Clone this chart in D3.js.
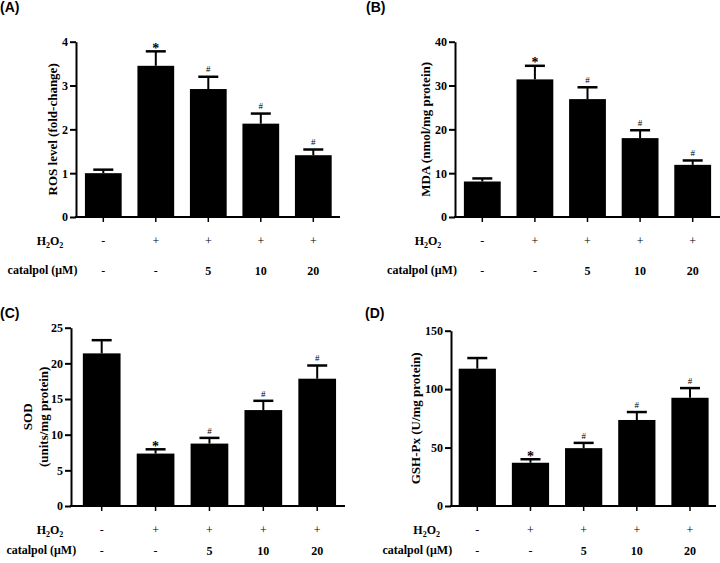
<!DOCTYPE html>
<html>
<head>
<meta charset="utf-8">
<script src="https://cdn.jsdelivr.net/npm/d3@7/dist/d3.min.js"></script>
<style>
  html, body { margin: 0; padding: 0; background: #fff; }
  svg { display: block; }
  text { font-family: "Liberation Serif", "Times New Roman", serif; font-weight: bold; fill: #000; }
</style>
</head>
<body>
<svg id="chart" width="720" height="563"></svg>
<script>
// ---------------- data ----------------
const groups = ["G1", "G2", "G3", "G4", "G5"];
const h2o2Labels = ["-", "+", "+", "+", "+"];
const catalpolLabels = ["-", "-", "5", "10", "20"];

const rosMean = [1.0, 3.45, 2.92, 2.13, 1.41];
const rosErr  = [0.08, 0.33, 0.28, 0.23, 0.13];
const rosMarks = ["", "*", "#", "#", "#"];
const rosTicks = [0, 1, 2, 3, 4];

const mdaMean = [8.1, 31.4, 26.9, 18.0, 11.9];
const mdaErr  = [0.7, 3.1, 2.7, 1.8, 1.0];
const mdaMarks = ["", "*", "#", "#", "#"];
const mdaTicks = [0, 10, 20, 30, 40];

const sodMean = [21.4, 7.35, 8.75, 13.45, 17.85];
const sodErr  = [1.85, 0.6, 0.8, 1.3, 1.85];
const sodMarks = ["", "*", "#", "#", "#"];
const sodTicks = [0, 5, 10, 15, 20, 25];

const gshMean = [117.5, 37.0, 49.5, 73.6, 92.6];
const gshErr  = [9.1, 3.0, 4.5, 6.8, 8.3];
const gshMarks = ["", "*", "#", "#", "#"];
const gshTicks = [0, 50, 100, 150];

const panelLetters = ["(A)", "(B)", "(C)", "(D)"];
const yLabels = [["ROS level (fold-change)"], ["MDA (nmol/mg protein)"], ["SOD", "(units/mg protein)"], ["GSH-Px (U/mg protein)"]];
const rowNames = ["H\u2082O\u2082", "catalpol (\u03bcM)"];

// ---------------- layout ----------------
const svg = d3.select("#chart");

const panels = [
  { letter: panelLetters[0], letterX: 0, letterY: 12, mean: rosMean, err: rosErr, marks: rosMarks, ticks: rosTicks, ymax: 4,
    ax0: 76, ax1: 340, c1: 103.3, c5: 313.3, y0: 217, yTop: 41.7, ylab: yLabels[0], ylabX: [52],
    rowY: [241, 270], rowNameX: [50, 42.5] },
  { letter: panelLetters[1], letterX: 366, letterY: 12, mean: mdaMean, err: mdaErr, marks: mdaMarks, ticks: mdaTicks, ymax: 40,
    ax0: 455, ax1: 720, c1: 482.3, c5: 692.7, y0: 217, yTop: 41.7, ylab: yLabels[1], ylabX: [425],
    rowY: [241, 270], rowNameX: [428, 422] },
  { letter: panelLetters[2], letterX: 0, letterY: 318, mean: sodMean, err: sodErr, marks: sodMarks, ticks: sodTicks, ymax: 25,
    ax0: 71, ax1: 345, c1: 101.7, c5: 317.2, y0: 506, yTop: 327.7, ylab: yLabels[2], ylabX: [27, 43.5],
    rowY: [529.3, 549.3], rowNameX: [50, 41.3] },
  { letter: panelLetters[3], letterX: 365, letterY: 318, mean: gshMean, err: gshErr, marks: gshMarks, ticks: gshTicks, ymax: 150,
    ax0: 451, ax1: 716, c1: 477.3, c5: 690, y0: 506, yTop: 330.7, ylab: yLabels[3], ylabX: [415],
    rowY: [529.3, 550], rowNameX: [426.7, 417.3] }
];

panels.forEach(p => {
  const step = (p.c5 - p.c1) / 4;
  const x = d3.scaleBand().domain(groups).range([p.c1 - step / 2, p.c5 + step / 2])
    .paddingInner(0.3).paddingOuter(0.15);
  const y = d3.scaleLinear().domain([0, p.ymax]).range([p.y0, p.yTop]);
  const g = svg.append("g");

  // panel letter
  svg.append("text").attr("x", p.letterX).attr("y", p.letterY)
    .style("font-family", "'Liberation Sans', Arial, sans-serif")
    .style("font-size", "14px").text(p.letter);

  // bars
  g.selectAll("rect.bar").data(groups).join("rect")
    .attr("x", d => x(d)).attr("width", x.bandwidth())
    .attr("y", (d, i) => y(p.mean[i]))
    .attr("height", (d, i) => p.y0 - y(p.mean[i]))
    .attr("fill", "#000");

  // error bars (upper only)
  g.selectAll("line.ev").data(groups).join("line")
    .attr("x1", d => x(d) + x.bandwidth() / 2).attr("x2", d => x(d) + x.bandwidth() / 2)
    .attr("y1", (d, i) => y(p.mean[i]))
    .attr("y2", (d, i) => y(p.mean[i] + p.err[i]))
    .attr("stroke", "#000").attr("stroke-width", 2);
  g.selectAll("line.ec").data(groups).join("line")
    .attr("x1", d => x(d) + x.bandwidth() / 2 - 10).attr("x2", d => x(d) + x.bandwidth() / 2 + 10)
    .attr("y1", (d, i) => y(p.mean[i] + p.err[i]))
    .attr("y2", (d, i) => y(p.mean[i] + p.err[i]))
    .attr("stroke", "#000").attr("stroke-width", 2.5);

  // significance marks
  g.selectAll("text.mark").data(groups).join("text")
    .attr("x", d => x(d) + x.bandwidth() / 2)
    .attr("y", (d, i) => y(p.mean[i] + p.err[i]) - (p.marks[i] === "*" ? -1.5 : 4.3))
    .attr("text-anchor", "middle")
    .style("font-size", (d, i) => p.marks[i] === "*" ? "14px" : "9px")
    .style("font-weight", (d, i) => p.marks[i] === "*" ? "bold" : "normal")
    .text((d, i) => p.marks[i]);

  // y axis
  const yAxis = d3.axisLeft(y).tickValues(p.ticks).tickFormat(d3.format("d"))
    .tickSize(6).tickPadding(2).tickSizeOuter(0);
  const ya = svg.append("g").attr("transform", `translate(${p.ax0},0)`).call(yAxis);
  ya.attr("font-family", null);
  ya.select(".domain").attr("stroke", "#000").attr("stroke-width", 2);
  ya.selectAll(".tick line").attr("stroke", "#000").attr("stroke-width", 2);
  ya.selectAll(".tick text").style("font-family", "'Liberation Serif', serif")
    .style("font-weight", "bold").style("font-size", "12px").attr("fill", "#000");

  // x axis
  const xAxis = d3.axisBottom(x).tickSize(5).tickFormat("").tickSizeOuter(0);
  const xa = svg.append("g").attr("transform", `translate(0,${p.y0})`).call(xAxis);
  xa.select(".domain").remove();
  xa.selectAll(".tick line").attr("stroke", "#000").attr("stroke-width", 1.5);
  svg.append("line").attr("x1", p.ax0 - 1).attr("x2", p.ax1)
    .attr("y1", p.y0).attr("y2", p.y0).attr("stroke", "#000").attr("stroke-width", 2);

  // y label
  const ymid = (p.y0 + p.yTop) / 2;
  p.ylab.forEach((t, k) => {
    svg.append("text")
      .attr("transform", `translate(${p.ylabX[k]},${ymid}) rotate(-90)`)
      .attr("text-anchor", "middle").attr("dy", "0.35em")
      .style("font-size", "13px").text(t);
  });

  // condition table
  const rows = [h2o2Labels, catalpolLabels];
  rows.forEach((vals, r) => {
    if (r === 0) {
      const t = svg.append("text").attr("x", p.rowNameX[r]).attr("y", p.rowY[r])
        .attr("text-anchor", "middle").attr("dy", "0.35em").style("font-size", "12px");
      t.append("tspan").text("H");
      t.append("tspan").attr("dy", "3").style("font-size", "8px").text("2");
      t.append("tspan").attr("dy", "-3").text("O");
      t.append("tspan").attr("dy", "3").style("font-size", "8px").text("2");
    } else {
      svg.append("text").attr("x", p.rowNameX[r]).attr("y", p.rowY[r])
        .attr("text-anchor", "middle").attr("dy", "0.35em").style("font-size", "12px")
        .text(rowNames[r]);
    }
    svg.selectAll(null).data(groups).join("text")
      .attr("x", d => x(d) + x.bandwidth() / 2)
      .attr("y", p.rowY[r] + (vals === catalpolLabels ? 1 : 0))
      .attr("text-anchor", "middle").attr("dy", "0.35em")
      .style("font-size", "12px")
      .style("font-weight", (d, i) => (vals[i] === "-" || vals[i] === "+") ? "normal" : "bold")
      .text((d, i) => vals[i]);
  });
});
</script>
</body>
</html>
